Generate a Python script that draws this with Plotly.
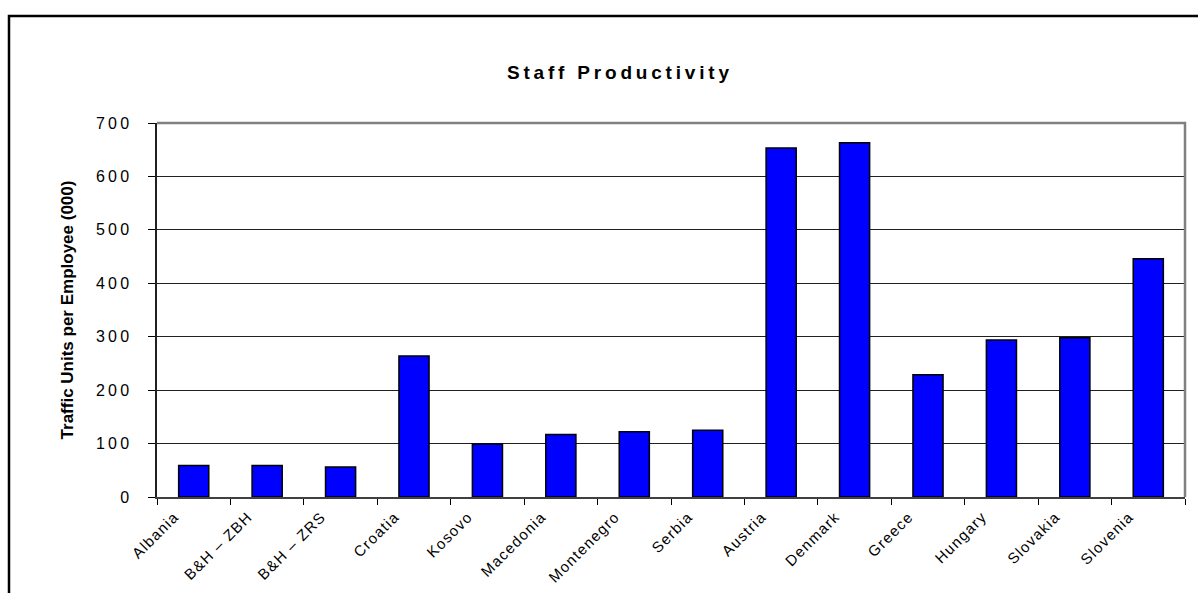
import plotly.graph_objects as go

categories = ["Albania", "B&H – ZBH", "B&H – ZRS", "Croatia", "Kosovo", "Macedonia",
              "Montenegro", "Serbia", "Austria", "Denmark", "Greece", "Hungary",
              "Slovakia", "Slovenia"]
values = [59, 59, 56, 264, 99, 117, 122, 125, 653, 663, 229, 294, 298, 446]
y_ticks = [0, 100, 200, 300, 400, 500, 600, 700]
title_text = "Staff Productivity"
y_title = "Traffic Units per Employee (000)"

SP = "\u2009"
HS = "\u200a"


def spaced(s, sep=SP):
    return sep.join(list(s))


W, H = 1198, 593
L, R, T, B = 157, 13, 123, 96
pw, ph = W - L - R, H - T - B

fig = go.Figure()
fig.add_trace(go.Bar(
    x=categories, y=values,
    marker=dict(color="#0000FF", line=dict(color="#000000", width=1.5)),
    width=0.41,
))

fig.update_layout(
    width=W, height=H,
    margin=dict(l=L, r=R, t=T, b=B, pad=0, autoexpand=False),
    paper_bgcolor="white", plot_bgcolor="white",
    showlegend=False,
    font=dict(family="Liberation Sans, Arial, sans-serif", color="black", size=15),
    title=dict(text="<b>" + spaced(title_text) + "</b>", x=618 / W, xanchor="center",
               y=1 - 72 / H, yanchor="middle", font=dict(size=19)),
)

fig.update_xaxes(
    type="category", tickangle=-45, tickson="boundaries", ticks="outside", ticklen=6,
    tickcolor="black", showline=True, linecolor="#404040", linewidth=2,
    showgrid=False, mirror=False, tickfont=dict(size=15),
    tickvals=categories, ticktext=[spaced(c, HS) for c in categories],
    ticklabelshift=-20, ticklabelstandoff=4, automargin=False,
)
fig.update_yaxes(
    range=[0, 700], tickvals=y_ticks, ticktext=[spaced(str(v)) for v in y_ticks],
    ticks="outside", ticklen=7, tickcolor="black", showline=True, linecolor="#202020",
    linewidth=1.5, showgrid=True, gridcolor="#202020", gridwidth=1,
    zeroline=False, tickfont=dict(size=16), ticklabelstandoff=16, automargin=False,
    title=dict(text="<b>" + y_title + "</b>", font=dict(size=17), standoff=18),
)

# plot area border (top and right, gray)
fig.add_shape(type="path", xref="paper", yref="paper",
              path="M 0,1 L 1,1 L 1,0", line=dict(color="#808080", width=2.5),
              layer="above")
# outer chart frame (left and top, black)
fx = (9 - L) / pw
fy = (H - B - 16) / ph
fb = (H - B - (H + 10)) / ph
fr = (W + 10 - L) / pw
fig.add_shape(type="path", xref="paper", yref="paper",
              path=f"M {fx},{fb} L {fx},{fy} L {fr},{fy}",
              line=dict(color="black", width=2.5))

fig.write_html("out.html")
